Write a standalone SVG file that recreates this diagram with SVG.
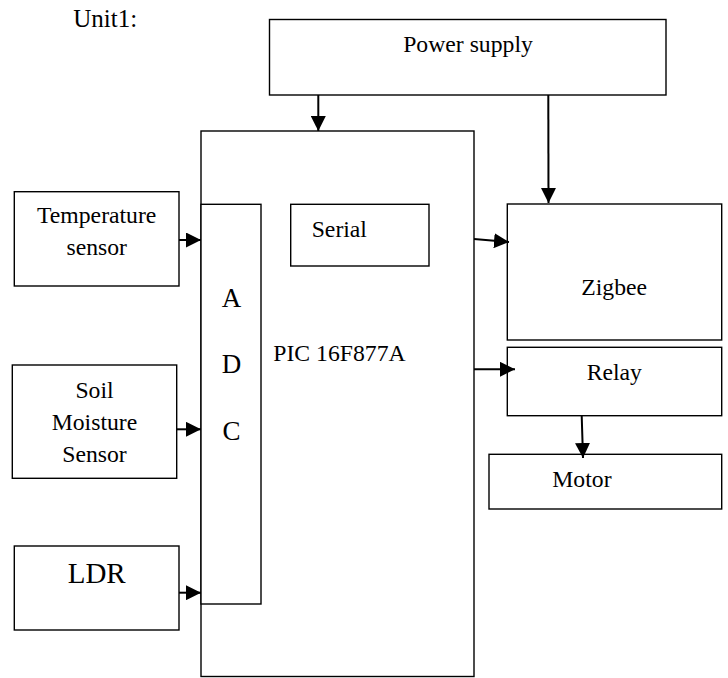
<svg xmlns="http://www.w3.org/2000/svg" width="728" height="678" viewBox="0 0 728 678">
<style>
.b{fill:#fff;stroke:#000;stroke-width:1.4}
.t{font-family:'Liberation Serif','Times New Roman','DejaVu Serif',serif;font-size:23.7px;fill:#000}
.c{text-anchor:middle}
.big{font-size:27px}
.ldr{font-size:29px}
#connectors line{stroke:#000;stroke-width:2;marker-end:url(#ah)}
</style>
<defs>
<marker id="ah" viewBox="0 0 15 15" refX="15" refY="7.5" markerWidth="15" markerHeight="15" markerUnits="userSpaceOnUse" orient="auto">
<path d="M0,0 L15,7.5 L0,15 z" fill="#000"/>
</marker>
</defs>
<rect width="728" height="678" fill="#fff"/>
<g font-family="Liberation Serif, Times New Roman, DejaVu Serif, serif">
<text class="t" x="73.3" y="26.5" style="font-size:25px">Unit1:</text>
<g id="power">
<rect class="b" x="269.5" y="19.5" width="396.5" height="75.5"/>
<text class="t c" x="468" y="52">Power supply</text>
</g>
<g id="pic">
<rect class="b" x="201" y="131" width="273" height="545.5"/>
<text class="t" x="273.3" y="360.5">PIC 16F877A</text>
</g>
<g id="adc">
<rect class="b" x="201" y="204.3" width="60" height="399.7"/>
<text class="t c big" x="231.5" y="307.3">A</text>
<text class="t c big" x="231.5" y="373.3">D</text>
<text class="t c big" x="231.5" y="440">C</text>
</g>
<g id="serial">
<rect class="b" x="290.7" y="204.3" width="138.3" height="61.7"/>
<text class="t" x="311.7" y="236.7">Serial</text>
</g>
<g id="zigbee">
<rect class="b" x="507.3" y="204" width="214.4" height="136"/>
<text class="t" x="581.3" y="295">Zigbee</text>
</g>
<g id="relay">
<rect class="b" x="507.3" y="347.3" width="214.4" height="68.4"/>
<text class="t" x="586.7" y="380">Relay</text>
</g>
<g id="motor">
<rect class="b" x="489" y="454.3" width="232.7" height="54.7"/>
<text class="t" x="552.3" y="486.7">Motor</text>
</g>
<g id="temp">
<rect class="b" x="14.3" y="191.7" width="164.7" height="94.3"/>
<text class="t c" x="96.7" y="223.3">Temperature</text>
<text class="t c" x="96.7" y="255">sensor</text>
</g>
<g id="soil">
<rect class="b" x="12.3" y="365" width="164.4" height="113.3"/>
<text class="t c" x="94.5" y="398.3">Soil</text>
<text class="t c" x="94.5" y="430">Moisture</text>
<text class="t c" x="94.5" y="461.7">Sensor</text>
</g>
<g id="ldr">
<rect class="b" x="14.3" y="546" width="164.7" height="84"/>
<text class="t c ldr" x="96.7" y="583">LDR</text>
</g>
</g>
<g id="connectors">
<line x1="318.3" y1="95" x2="318.3" y2="131"/>
<line x1="548.3" y1="95" x2="548.5" y2="203"/>
<line x1="474" y1="239" x2="509" y2="242"/>
<line x1="474" y1="369.3" x2="515" y2="369.3"/>
<line x1="581.7" y1="415.7" x2="583" y2="458"/>
<line x1="179" y1="240" x2="201" y2="240"/>
<line x1="176.7" y1="429.3" x2="201" y2="429.3"/>
<line x1="179" y1="592.7" x2="201" y2="592.7"/>
</g>
</svg>
